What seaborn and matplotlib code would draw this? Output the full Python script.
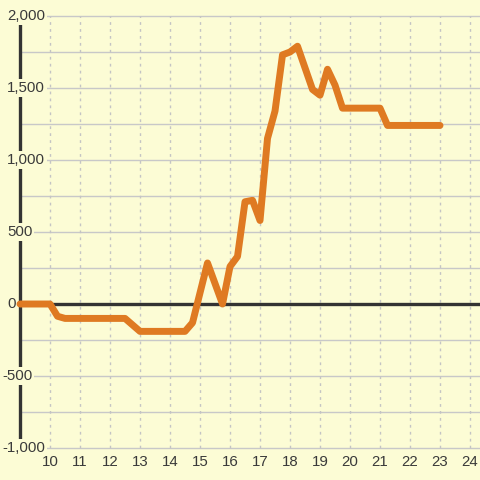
import matplotlib
matplotlib.use("Agg")
import matplotlib.pyplot as plt
import seaborn as sns
import pandas as pd

# values
hours = [9.0, 10.0, 10.25, 10.5, 12.5, 13.0, 14.5, 14.75, 15.25, 15.75, 16.0,
         16.25, 16.5, 16.75, 17.0, 17.25, 17.5, 17.75, 18.0, 18.25, 18.75,
         19.0, 19.25, 19.5, 19.75, 21.0, 21.25, 23.0]
values = [0, 0, -85, -100, -100, -190, -190, -130, 285, 0, 260,
          330, 710, 720, 580, 1150, 1340, 1730, 1750, 1790, 1490,
          1450, 1630, 1520, 1360, 1360, 1240, 1240]
x_ticks = list(range(10, 25))
y_ticks = [-1000, -500, 0, 500, 1000, 1500, 2000]
y_minor = [-750, -250, 250, 750, 1250, 1750]

bg = "#fcfcd5"
sns.set_style("white", {"axes.facecolor": bg, "figure.facecolor": bg})
plt.rcParams["font.family"] = ["Liberation Sans", "DejaVu Sans"]

df = pd.DataFrame({"hour": hours, "value": values})

fig = plt.figure(figsize=(4.8, 4.8), dpi=100)
ax = fig.add_axes([0, 0, 1, 1])
ax.set_xlim(8.333, 24.333)
ax.set_ylim(-1222, 2111)
for s in ax.spines.values():
    s.set_visible(False)
ax.set_xticks([])
ax.set_yticks([])

# grid
for v in y_ticks + y_minor:
    if v == 0:
        continue
    ax.plot([9, 24.4], [v, v], color="#c8c8c8", lw=1, zorder=1)
ax.vlines(x_ticks, -1000, 2000, colors="#c4c4c4", lw=1, linestyles=(0, (2, 3)), zorder=1)

# axis lines
ax.plot([9, 24.4], [0, 0], color="#333333", lw=2.4, zorder=2)
ax.plot([9, 9], [-1000, 2000], color="#333333", lw=2.4, zorder=2)

for v in y_ticks:
    x0 = 8.4 if v < 0 else 8.566
    ax.text(x0, v, f"{v:,}", ha="left", va="center", fontsize=10.8,
            color="#3a3a3a", zorder=3,
            bbox=dict(facecolor=bg, edgecolor="none", pad=1.5))
for h in x_ticks:
    ax.text(h, -1095, str(h), ha="center", va="center", fontsize=10.8,
            color="#3a3a3a", zorder=3)

sns.lineplot(data=df, x="hour", y="value", ax=ax, color="#df7a22", lw=5,
             zorder=4, legend=False)
ax.set_xlabel("")
ax.set_ylabel("")

fig.savefig("out.png", dpi=100, facecolor=bg)
